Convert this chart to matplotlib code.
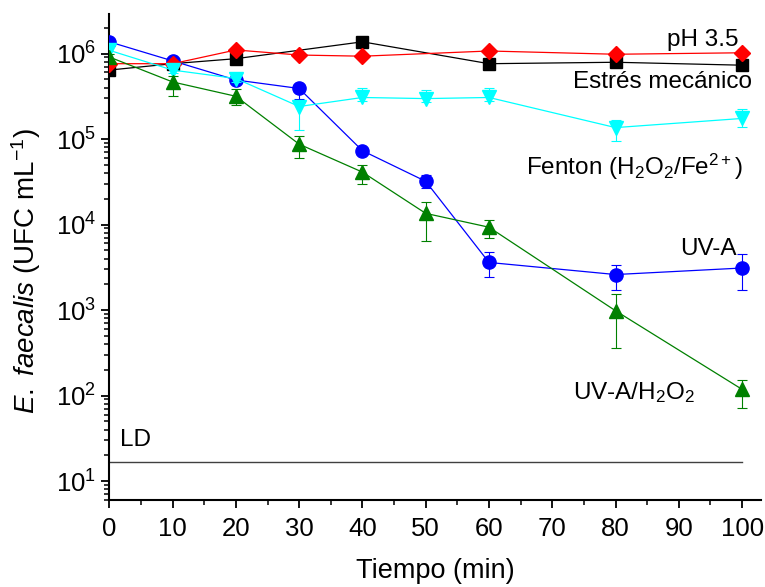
import matplotlib
matplotlib.use("Agg")
import matplotlib.pyplot as plt
from matplotlib.ticker import MultipleLocator, LogLocator, NullFormatter
import numpy as np

plt.rcParams['font.family'] = ['Liberation Sans', 'DejaVu Sans']
plt.rcParams['mathtext.fontset'] = 'custom'
plt.rcParams['mathtext.rm'] = 'Liberation Sans'
plt.rcParams['mathtext.it'] = 'Liberation Sans:italic'

# tiempo (min)
t = [0, 10, 20, 30, 40, 50, 60, 80, 100]
t_mec = [0, 10, 20, 40, 60, 80, 100]

# Estrés mecánico
mec = [6.4e5, 7.6e5, 8.7e5, 1.37e6, 7.6e5, 7.9e5, 7.3e5]
# pH 3.5
ph = [7.6e5, 7.6e5, 1.1e6, 9.6e5, 9.3e5, 1.07e6, 9.8e5, 1.02e6]
t_ph = [0, 10, 20, 30, 40, 60, 80, 100]
# UV-A
uva = [1.37e6, 8.2e5, 4.9e5, 3.9e5, 7.3e4, 3.2e4, 3.6e3, 2.6e3, 3.1e3]
uva_lo = [1.3e6, 7.6e5, 4.5e5, 2.9e5, 6.6e4, 2.66e4, 2.44e3, 1.7e3, 1.7e3]
uva_hi = [1.45e6, 8.8e5, 5.4e5, 4.2e5, 8.0e4, 3.8e4, 4.8e3, 3.4e3, 4.5e3]
# Fenton (H2O2/Fe2+)
fen = [1.09e6, 6.4e5, 5.1e5, 2.4e5, 3.06e5, 2.97e5, 3.06e5, 1.36e5, 1.74e5]
fen_lo = [1.0e6, 5.9e5, 4.7e5, 1.26e5, 2.8e5, 2.7e5, 2.8e5, 9.5e4, 1.38e5]
fen_hi = [1.18e6, 6.9e5, 5.6e5, 2.6e5, 3.9e5, 3.7e5, 3.9e5, 1.69e5, 2.27e5]
# UV-A/H2O2
uvh = [9.1e5, 4.65e5, 3.16e5, 8.7e4, 4.1e4, 1.35e4, 9.3e3, 980, 118]
uvh_lo = [8.5e5, 3.2e5, 2.5e5, 6.0e4, 3.0e4, 6.4e3, 6.9e3, 355, 71]
uvh_hi = [9.8e5, 5.5e5, 3.8e5, 1.08e5, 5.0e4, 1.84e4, 1.12e4, 1530, 151]

ld = 16.7


def err(vals, lo, hi):
    v = np.array(vals)
    return [v - np.array(lo), np.array(hi) - v]


fig = plt.figure(figsize=(7.65, 5.87), dpi=100)
ax = fig.add_axes([0.1429, 0.1482, 0.852, 0.828])

ms = 9.5
ax.plot(t_mec, mec, color='black', lw=0.9, marker='s', ms=ms - 1, zorder=2)
ax.errorbar(t, uva, yerr=err(uva, uva_lo, uva_hi), color='blue', lw=0.9,
            marker='o', ms=ms, capsize=3.5, elinewidth=0.8, capthick=0.8, zorder=3)
ax.plot(t_ph, ph, color='red', lw=0.9, marker='D', ms=ms - 1.5, zorder=4)
ax.errorbar(t, fen, yerr=err(fen, fen_lo, fen_hi), color='cyan', lw=0.9,
            marker='v', ms=ms + 1, capsize=3.5, elinewidth=0.8, capthick=0.8, zorder=5)
ax.errorbar(t, uvh, yerr=err(uvh, uvh_lo, uvh_hi), color='green', lw=0.9,
            marker='^', ms=ms + 1, capsize=3.5, elinewidth=0.8, capthick=0.8, zorder=6)

ax.plot([0, 100], [ld, ld], color='#404040', lw=1.0)

fs = 17.5
ax.text(99.5, 1.43e6, 'pH 3.5', ha='right', va='center', fontsize=fs)
ax.text(101.5, 4.7e5, 'Estrés mecánico', ha='right', va='center', fontsize=fs)
ax.text(65.9, 4.7e4, r'Fenton $\mathregular{(H_2O_2/Fe^{2+})}$', ha='left', va='center', fontsize=fs)
ax.text(99.1, 5.2e3, 'UV-A', ha='right', va='center', fontsize=fs)
ax.text(73.3, 107, r'UV-A/H$_2$O$_2$', ha='left', va='center', fontsize=fs)
ax.text(1.7, 30, 'LD', ha='left', va='center', fontsize=fs)

ax.set_yscale('log')
ax.set_xlim(0, 103)
ax.set_ylim(6, 2.9e6)
ax.xaxis.set_major_locator(MultipleLocator(10))
ax.xaxis.set_minor_locator(MultipleLocator(5))
ax.yaxis.set_major_locator(LogLocator(base=10, numticks=10))
ax.yaxis.set_minor_locator(LogLocator(base=10, subs=np.arange(2, 10), numticks=20))
ax.yaxis.set_minor_formatter(NullFormatter())

for s in ['top', 'right']:
    ax.spines[s].set_visible(False)
for s in ['left', 'bottom']:
    ax.spines[s].set_linewidth(1.5)
ax.tick_params(which='major', direction='out', length=6, width=1.3, labelsize=18.5)
ax.tick_params(axis='x', which='major', pad=6)
ax.tick_params(which='minor', direction='out', length=3.5, width=1.1)

ax.set_xlabel('Tiempo (min)', fontsize=19.5)
ax.set_ylabel(r'$\mathit{E.\ faecalis}$ (UFC mL$^{-1}$)', fontsize=20)
ax.xaxis.set_label_coords(0.5, -0.12)
ax.yaxis.set_label_coords(-0.102, 0.47)

fig.savefig('out.png', dpi=100)
